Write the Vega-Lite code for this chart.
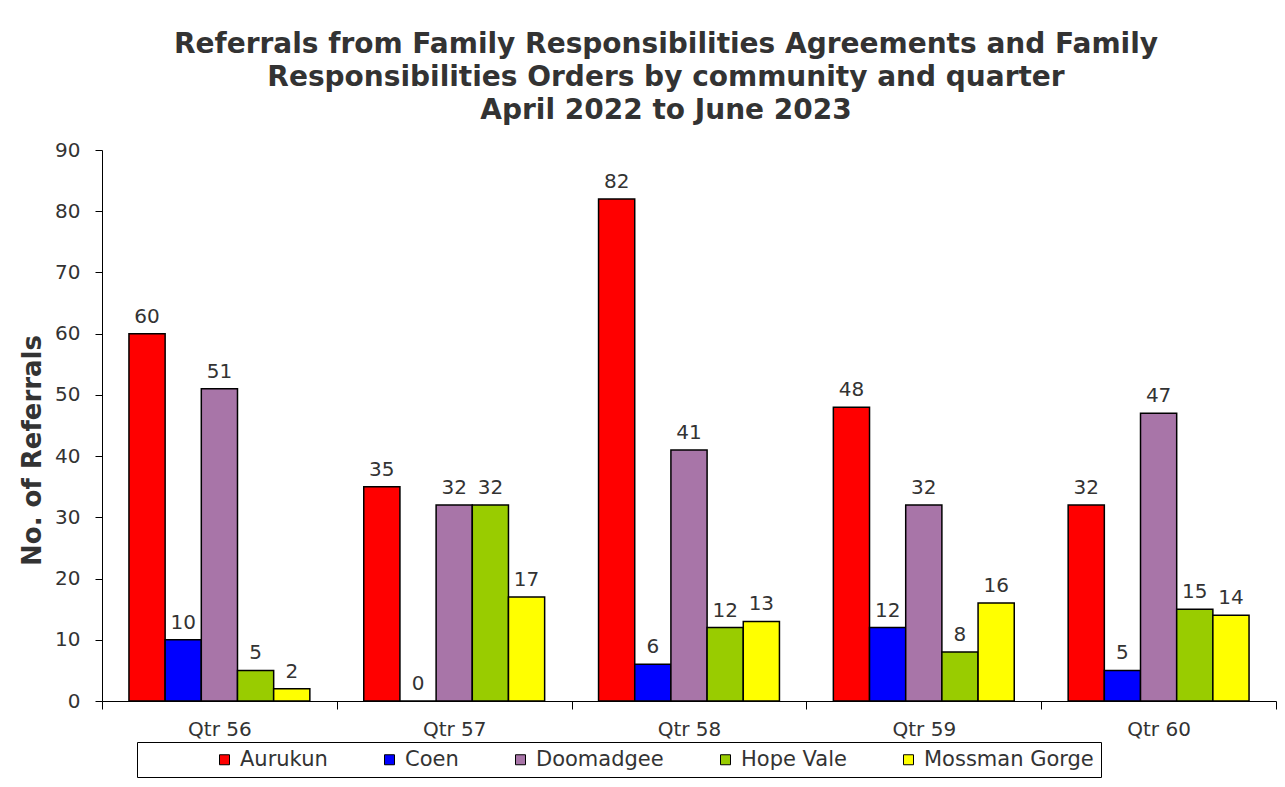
{
  "$schema": "https://vega.github.io/schema/vega-lite/v6.json",
  "width": 1174,
  "height": 551,
  "autosize": {"type": "none"},
  "padding": {"left": 102, "top": 150, "right": 9, "bottom": 86},
  "background": "white",
  "config": {"view": {"stroke": null}, "font": "DejaVu Sans"},
  "title": {
    "text": ["Referrals from Family Responsibilities Agreements and Family", "Responsibilities Orders by community and quarter", "April 2022 to June 2023"],
    "fontSize": 28,
    "font": "DejaVu Sans",
    "fontWeight": "bold",
    "color": "#333333",
    "anchor": "middle",
    "dx": -23,
    "offset": 15,
    "lineHeight": 33
  },
  "data": {
    "values": [
      {"quarter": "Qtr 56", "community": "Aurukun", "referrals": 60},
      {"quarter": "Qtr 56", "community": "Coen", "referrals": 10},
      {"quarter": "Qtr 56", "community": "Doomadgee", "referrals": 51},
      {"quarter": "Qtr 56", "community": "Hope Vale", "referrals": 5},
      {"quarter": "Qtr 56", "community": "Mossman Gorge", "referrals": 2},
      {"quarter": "Qtr 57", "community": "Aurukun", "referrals": 35},
      {"quarter": "Qtr 57", "community": "Coen", "referrals": 0},
      {"quarter": "Qtr 57", "community": "Doomadgee", "referrals": 32},
      {"quarter": "Qtr 57", "community": "Hope Vale", "referrals": 32},
      {"quarter": "Qtr 57", "community": "Mossman Gorge", "referrals": 17},
      {"quarter": "Qtr 58", "community": "Aurukun", "referrals": 82},
      {"quarter": "Qtr 58", "community": "Coen", "referrals": 6},
      {"quarter": "Qtr 58", "community": "Doomadgee", "referrals": 41},
      {"quarter": "Qtr 58", "community": "Hope Vale", "referrals": 12},
      {"quarter": "Qtr 58", "community": "Mossman Gorge", "referrals": 13},
      {"quarter": "Qtr 59", "community": "Aurukun", "referrals": 48},
      {"quarter": "Qtr 59", "community": "Coen", "referrals": 12},
      {"quarter": "Qtr 59", "community": "Doomadgee", "referrals": 32},
      {"quarter": "Qtr 59", "community": "Hope Vale", "referrals": 8},
      {"quarter": "Qtr 59", "community": "Mossman Gorge", "referrals": 16},
      {"quarter": "Qtr 60", "community": "Aurukun", "referrals": 32},
      {"quarter": "Qtr 60", "community": "Coen", "referrals": 5},
      {"quarter": "Qtr 60", "community": "Doomadgee", "referrals": 47},
      {"quarter": "Qtr 60", "community": "Hope Vale", "referrals": 15},
      {"quarter": "Qtr 60", "community": "Mossman Gorge", "referrals": 14}
    ]
  },
  "encoding": {
    "x": {
      "field": "quarter",
      "type": "nominal",
      "scale": {"paddingInner": 0, "paddingOuter": 0},
      "axis": {
        "title": null,
        "labelAngle": 0,
        "labelFontSize": 20,
        "labelColor": "#333333",
        "labelPadding": 10,
        "domainColor": "black",
        "tickColor": "black",
        "tickBand": "extent",
        "tickSize": 8
      }
    },
    "xOffset": {
      "field": "community",
      "type": "nominal",
      "sort": ["Aurukun", "Coen", "Doomadgee", "Hope Vale", "Mossman Gorge"],
      "scale": {"paddingInner": 0, "paddingOuter": 0.745}
    },
    "y": {
      "field": "referrals",
      "type": "quantitative",
      "scale": {"domain": [0, 90]},
      "axis": {
        "values": [0, 10, 20, 30, 40, 50, 60, 70, 80, 90],
        "grid": false,
        "domainColor": "black",
        "tickColor": "black",
        "tickSize": 7,
        "labelPadding": 15,
        "labelFontSize": 20,
        "labelColor": "#333333",
        "title": "No. of Referrals",
        "titleFontSize": 26,
        "titleFontWeight": "bold",
        "titleColor": "#333333",
        "titlePadding": 9,
        "titleY": 300
      }
    }
  },
  "layer": [
    {
      "mark": {"type": "bar", "stroke": "black", "strokeWidth": 1.5},
      "encoding": {
        "color": {
          "field": "community",
          "type": "nominal",
          "scale": {
            "domain": ["Aurukun", "Coen", "Doomadgee", "Hope Vale", "Mossman Gorge"],
            "range": ["#FF0000", "#0000FF", "#A875A8", "#99CC00", "#FFFF00"]
          },
          "legend": {
            "orient": "none",
            "legendX": 35,
            "legendY": 592,
            "direction": "horizontal",
            "columns": 5,
            "strokeColor": "black",
            "padding": 7,
            "title": "\u00a0",
            "titleOrient": "left",
            "titlePadding": 70,
            "symbolType": "square",
            "symbolSize": 100,
            "symbolStrokeColor": "black",
            "symbolStrokeWidth": 1,
            "symbolOpacity": 1,
            "labelFontSize": 21,
            "labelColor": "#333333",
            "labelOffset": 5,
            "labelLimit": 400,
            "columnPadding": 51,
            "labelExpr": "datum.label == 'Mossman Gorge' ? 'Mossman Gorge\u00a0\u00a0\u00a0\u00a0' : datum.label"
          }
        }
      }
    },
    {
      "mark": {"type": "text", "baseline": "alphabetic", "dy": -11, "fontSize": 20, "color": "#333333"},
      "encoding": {"text": {"field": "referrals", "type": "quantitative"}}
    }
  ]
}
